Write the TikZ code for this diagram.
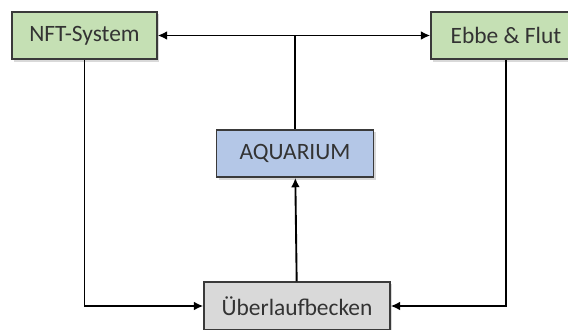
\documentclass[tikz,border=0pt]{standalone}
\usepackage{fontspec}
\setmainfont{Carlito}
\usetikzlibrary{shadows,arrows.meta}
\definecolor{nftgreen}{HTML}{C5E0B4}
\definecolor{aquablue}{HTML}{B4C7E7}
\definecolor{beckengray}{HTML}{D9D9D9}
\definecolor{boxline}{HTML}{3A3A3A}
\tikzset{
  box/.style={draw=boxline, line width=1.2pt, minimum height=1.42cm, inner sep=0pt,
    text=black!80, font=\fontsize{20}{24}\selectfont,
    drop shadow={opacity=0.3, shadow xshift=2pt, shadow yshift=-2pt}},
  flow/.style={line width=1.6pt, >={Latex[length=8pt,width=7.5pt]}}
}
\begin{document}
\begin{tikzpicture}[x=0.03cm, y=-0.03cm]
\useasboundingbox (0,0) rectangle (568,329);
\clip (0,0) rectangle (568,329);
\node[box, fill=nftgreen, minimum width=4.35cm] (nft) at (84.5,35.5) {NFT-System};
\node[box, fill=nftgreen, minimum width=4.5cm] (ebbe) at (506,35.5) {Ebbe \& Flut};
\node[box, fill=aquablue, minimum width=4.71cm] (aqua) at (295,153.5) {AQUARIUM};
\node[box, fill=beckengray, minimum width=5.58cm, minimum height=1.44cm] (becken) at (297,306) {Überlaufbecken};
% Verbindungen
\draw[flow, <->] (nft) -- (ebbe);
\draw[flow] (aqua.north) -- (aqua.north |- nft.east);
\draw[flow, ->] (becken) -- (aqua);
\draw[flow, ->] (nft.south) |- (becken.west);
\draw[flow, ->] (ebbe.south) |- (becken.east);
\end{tikzpicture}
\end{document}
